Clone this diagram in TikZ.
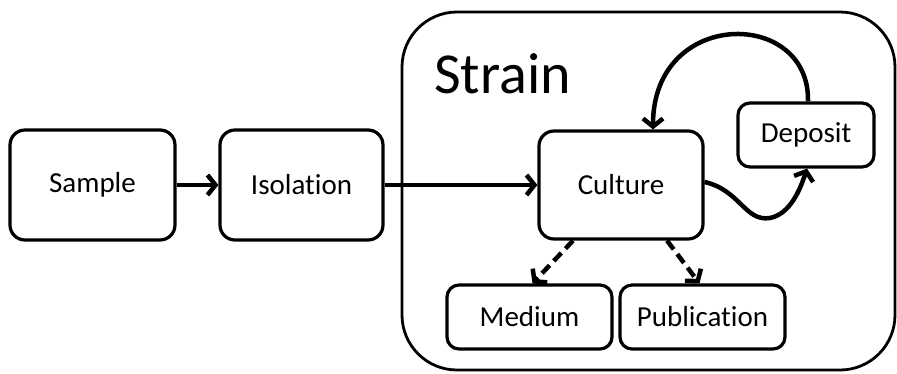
\documentclass[tikz,border=0pt]{standalone}
\usepackage{fontspec}
\setmainfont[Ligatures=NoCommon]{Carlito}
\usetikzlibrary{arrows.meta}
\begin{document}
\begin{tikzpicture}[x=1pt,y=-1pt,
  box/.style={draw, line width=3.2pt, rounded corners=15pt, font=\fontsize{29}{31}\selectfont, inner sep=0pt},
  conn/.style={line width=4.5pt, -{Straight Barb[length=8pt,width=20pt]}},
  dconn/.style={conn, dash pattern=on 11pt off 6pt}
]
\useasboundingbox (0,0) rectangle (897,373);

% strain frame
\draw[line width=2.8pt, rounded corners=55pt] (402,12) rectangle (895,370);
\node[anchor=base west, font=\fontsize{58}{62}\selectfont, inner sep=0pt] (strain) at (434,93) {Strain};

% boxes
\node[box, minimum width=165pt, minimum height=110pt] (sample) at (92.5,185) {Sample};
\node[box, minimum width=163pt, minimum height=110pt] (isolation) at (301.5,185) {Isolation};
\node[box, minimum width=164pt, minimum height=108pt] (culture) at (621,185) {Culture};
\node[box, minimum width=136pt, minimum height=64pt, rounded corners=12pt] (deposit) at (806,135) {Deposit};
\node[box, minimum width=165pt, minimum height=64pt, rounded corners=12pt] (medium) at (529.5,317) {Medium};
\node[box, minimum width=165pt, minimum height=64pt, rounded corners=12pt] (publication) at (702.5,317) {Publication};

% connectors
\draw[conn] (sample) -- (isolation);
\draw[conn] (isolation) -- (culture);
\draw[conn] ([xshift=2pt]deposit.north) .. controls (810,8) and (653,8) .. ([xshift=32pt]culture.north);
\draw[conn] ([yshift=3pt]culture.east) .. controls (740,190) and (745,222) .. (770,218)
  .. controls (790,214) and (800,190) .. ([xshift=1pt]deposit.south);
\draw[dconn] ([xshift=-48pt]culture.south) -- ([xshift=3pt]medium.north);
\draw[dconn] ([xshift=46pt]culture.south) -- ([xshift=-3pt]publication.north);
\end{tikzpicture}
\end{document}
